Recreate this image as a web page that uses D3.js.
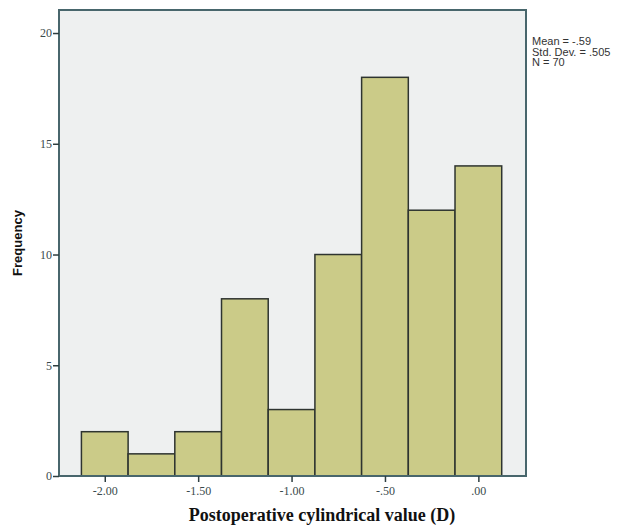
<!DOCTYPE html>
<html>
<head>
<meta charset="utf-8">
<script src="https://cdn.jsdelivr.net/npm/d3@7"></script>
<style>
  body { margin: 0; background: #ffffff; }
</style>
</head>
<body>
<div id="chart-area"></div>
<script>
// Histogram bins (lower edge) and counts
const binStarts = [-2.125, -1.875, -1.625, -1.375, -1.125, -0.875, -0.625, -0.375, -0.125]
const binWidth = 0.25
const counts = [2, 1, 2, 8, 3, 10, 18, 12, 14]
const xTicks = [-2.0, -1.5, -1.0, -0.5, 0.0]
const xTickLabels = ["-2.00", "-1.50", "-1.00", "-.50", ".00"]
const yTicks = [0, 5, 10, 15, 20]
const statLines = ["Mean = -.59", "Std. Dev. = .505", "N = 70"]

const W = 636, H = 529
const PLOT = { LEFT: 59, RIGHT: 526, TOP: 10, BOTTOM: 476 }

const svg = d3.select("#chart-area").append("svg")
  .attr("width", W)
  .attr("height", H)

const x = d3.scaleLinear()
  .domain([-2.245, 0.255])
  .range([PLOT.LEFT, PLOT.RIGHT])

const y = d3.scaleLinear()
  .domain([0, 21.04])
  .range([PLOT.BOTTOM, PLOT.TOP])

// Plot background
svg.append("rect")
  .attr("x", PLOT.LEFT)
  .attr("y", PLOT.TOP)
  .attr("width", PLOT.RIGHT - PLOT.LEFT)
  .attr("height", PLOT.BOTTOM - PLOT.TOP)
  .attr("fill", "#eef0f0")

// Bars
const bins = binStarts.map((s, i) => ({ x0: s, x1: s + binWidth, n: counts[i] }))
svg.selectAll("rect.bar")
  .data(bins)
  .enter().append("rect")
  .attr("class", "bar")
  .attr("x", d => x(d.x0))
  .attr("y", d => y(d.n))
  .attr("width", d => x(d.x1) - x(d.x0))
  .attr("height", d => y(0) - y(d.n))
  .attr("fill", "#cbcb88")
  .attr("stroke", "#2e3430")
  .attr("stroke-width", 1.5)

// Frame
svg.append("rect")
  .attr("x", PLOT.LEFT)
  .attr("y", PLOT.TOP)
  .attr("width", PLOT.RIGHT - PLOT.LEFT)
  .attr("height", PLOT.BOTTOM - PLOT.TOP)
  .attr("fill", "none")
  .attr("stroke", "#48666c")
  .attr("stroke-width", 2)

// Y axis
const yAxis = svg.append("g")
  .attr("transform", `translate(${PLOT.LEFT}, 0)`)
  .call(d3.axisLeft(y).tickValues(yTicks).tickSize(6).tickFormat(d3.format("d")))
yAxis.select(".domain").remove()
yAxis.selectAll("line").attr("stroke", "#2e3e40").attr("stroke-width", 1.5)
yAxis.selectAll("text")
  .attr("font-family", "Liberation Serif, serif")
  .attr("font-size", "12px")
  .attr("fill", "#3a4a4c")
  .attr("x", -7)

// X axis
const xAxis = svg.append("g")
  .attr("transform", `translate(0, ${PLOT.BOTTOM})`)
  .call(d3.axisBottom(x).tickValues(xTicks).tickSize(6).tickFormat((d, i) => xTickLabels[i]))
xAxis.select(".domain").remove()
xAxis.selectAll("line").attr("stroke", "#2e3e40").attr("stroke-width", 1.5)
xAxis.selectAll("text")
  .attr("font-family", "Liberation Serif, serif")
  .attr("font-size", "12px")
  .attr("fill", "#3a4a4c")
  .attr("y", 10)

// Axis labels
svg.append("text")
  .attr("x", W / 2 + 4)
  .attr("y", 521)
  .attr("text-anchor", "middle")
  .attr("font-family", "Liberation Serif, serif")
  .attr("font-weight", "bold")
  .attr("font-size", "18px")
  .attr("fill", "#111")
  .text("Postoperative cylindrical value (D)")

svg.append("text")
  .attr("transform", `translate(22, ${(PLOT.TOP + PLOT.BOTTOM) / 2}) rotate(-90)`)
  .attr("text-anchor", "middle")
  .attr("font-family", "Liberation Sans, Arial, sans-serif")
  .attr("font-weight", "bold")
  .attr("font-size", "13px")
  .attr("fill", "#111")
  .text("Frequency")

// Stats box
svg.selectAll("text.stat")
  .data(statLines)
  .enter().append("text")
  .attr("class", "stat")
  .attr("x", 532)
  .attr("y", (d, i) => 45 + i * 10.5)
  .attr("font-family", "Liberation Sans Narrow, Liberation Sans, Arial, sans-serif")
  .attr("font-size", "11px")
  .attr("fill", "#333")
  .text(d => d)
</script>
</body>
</html>
